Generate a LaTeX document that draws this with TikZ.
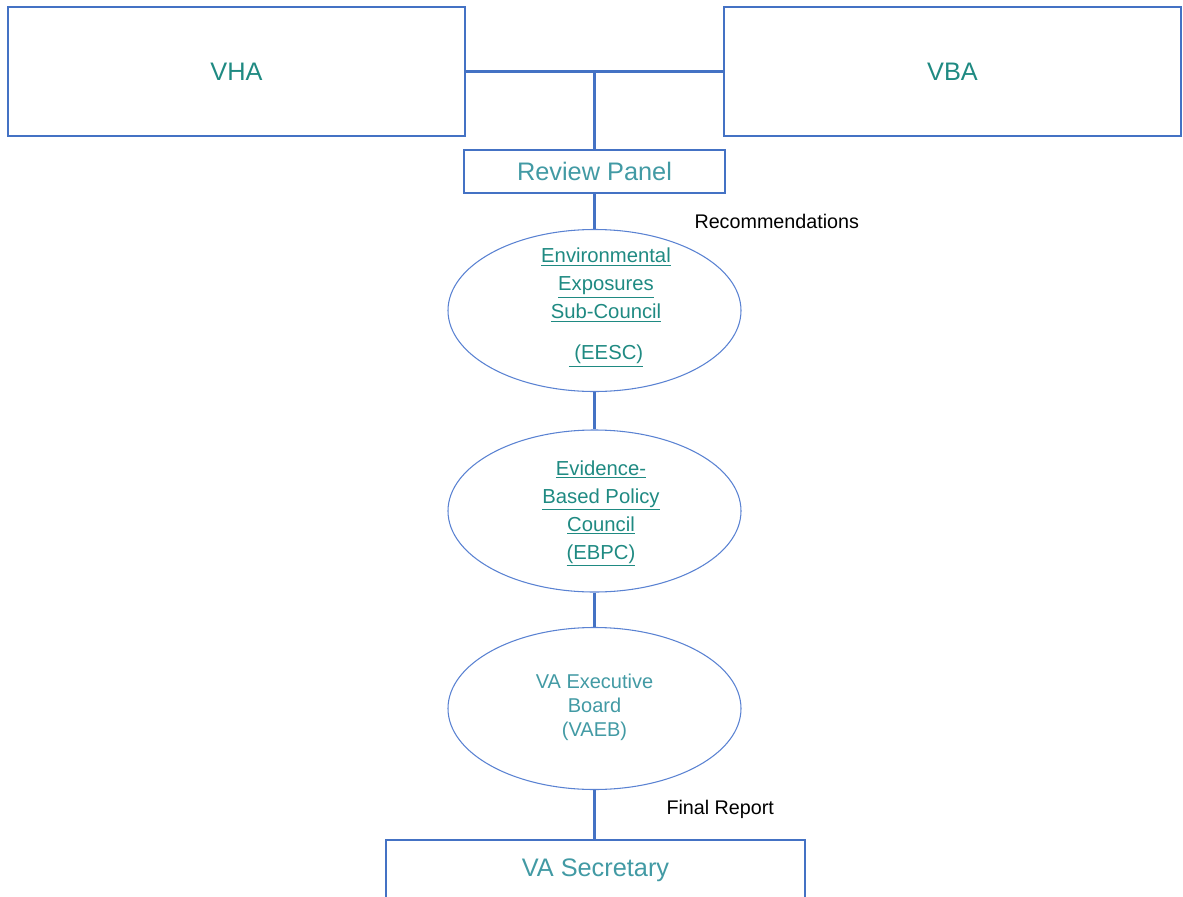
\documentclass[tikz,border=0pt]{standalone}
\usepackage{fontspec}
\setmainfont{Liberation Sans}
\usetikzlibrary{shapes.geometric}

\definecolor{linecol}{RGB}{68,114,196}
\definecolor{ellcol}{RGB}{90,130,210}
\definecolor{tealdark}{RGB}{31,138,130}
\definecolor{teallight}{RGB}{66,154,164}

\tikzset{every picture/.style={line width=0.75pt}}
\tikzset{
  unitbox/.style={draw=linecol, line width=1.1pt, rectangle, inner sep=0pt, text=tealdark, font=\fontsize{19}{23}\selectfont},
  councilell/.style={draw=ellcol, line width=0.8pt, ellipse, inner sep=0pt, minimum width=219.75pt, minimum height=121.5pt},
  counciltext/.style={inner sep=0pt, align=center, text=tealdark, font=\fontsize{15.2}{21}\selectfont},
  link/.style={draw=linecol, line width=2pt},
  plainlabel/.style={anchor=west, inner sep=0.75pt, font=\fontsize{14.8}{18}\selectfont}
}

\begin{document}
\begin{tikzpicture}[x=0.75pt,y=0.75pt,yscale=-1,xscale=1]
\clip (0,0) rectangle (1183,897);

%Shape: Rectangle [VHA]
\node [unitbox, minimum width=342.75pt, minimum height=96.75pt] (vha) at (236.5,71.5) {VHA};
%Shape: Rectangle [VBA]
\node [unitbox, minimum width=342.75pt, minimum height=96.75pt] (vba) at (952.5,71.5) {VBA};
%Shape: Rectangle [Review Panel]
\node [unitbox, text=teallight, minimum width=195.75pt, minimum height=32.25pt] (panel) at (594.5,171.5) {Review Panel};

%Shape: Ellipse [EESC]
\node [councilell] (eesc) at (594.5,310.5) {};
%Shape: Ellipse [EBPC]
\node [councilell] (ebpc) at (594.5,511) {};
%Shape: Ellipse [VAEB]
\node [councilell] (vaeb) at (594.5,708.5) {};

% Text Node
\node [counciltext] (eesc-txt) at (606,307.5) {\underline{Environmental}\\\underline{Exposures}\\\underline{Sub-Council}\\[9.75pt]\underline{\ (EESC)}};
% Text Node
\node [counciltext] (ebpc-txt) at (601,513.5) {\underline{Evidence-}\\\underline{Based Policy}\\\underline{Council}\\\underline{(EBPC)}};
% Text Node
\node [counciltext, text=teallight, font=\fontsize{15}{18}\selectfont] (vaeb-txt) at (594.5,707.5) {VA Executive\\Board\\(VAEB)};

%Shape: Rectangle [VA Secretary]
\node [unitbox, text=teallight, minimum width=314.25pt, minimum height=45pt] (secr) at (595.5,870) {VA Secretary};

%Straight Lines
\coordinate (junc) at (594.5,71.5);
\draw [link] (vha.east) -- (vba.west);
\draw [link] (junc) -- (panel.north);
\draw [link] (panel.south) -- (eesc.north);
\draw [link] (eesc.south) -- (ebpc.north);
\draw [link] (ebpc.south) -- (vaeb.north);
\draw [link] (vaeb.south) -- (vaeb.south |- secr.north);

% Text Node
\node [plainlabel] (recom) at (693,221) {Recommendations};
% Text Node
\node [plainlabel] (final) at (665,809) {Final Report};
\end{tikzpicture}
\end{document}
